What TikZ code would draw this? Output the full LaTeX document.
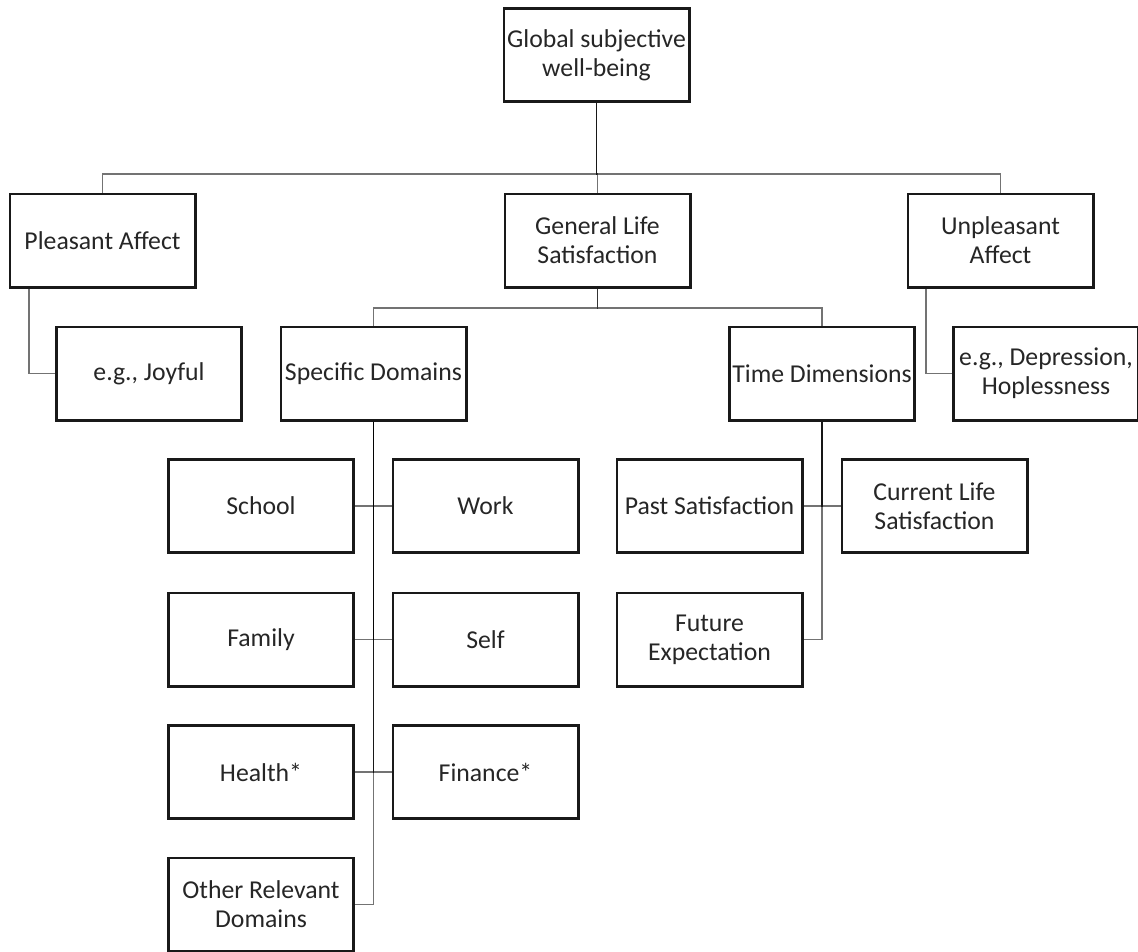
\documentclass[tikz,border=0pt]{standalone}
\usepackage{fontspec}
\setmainfont{Carlito}
\begin{document}
\begin{tikzpicture}[x=0.75pt,y=-0.75pt,
  box/.style={draw=black!90, line width=2pt, fill=white,
    minimum width=139pt, minimum height=70pt, inner sep=0pt,
    align=center, font=\fontsize{19.3pt}{21.75pt}\selectfont, text=black!85},
  conn/.style={draw=black, line width=0.9pt, opacity=0.55}]
\useasboundingbox (0,0) rectangle (1138,951);
% bus / elbow coordinates
\coordinate (bus1) at (0,174);
\coordinate (bus2) at (0,308);
\coordinate (pj) at (29,0);
\coordinate (ud) at (926,0);
% level 1
\node[box] (g) at (596.5,55) {Global subjective\\well-being};
% level 2
\node[box] (pa) at (102.5,240.5) {Pleasant Affect};
\node[box] (gl) at (597.5,240.5) {General Life\\Satisfaction};
\node[box] (ua) at (1000.5,240.5) {Unpleasant\\Affect};
% level 3
\node[box] (joy) at (149,373.5) {e.g., Joyful};
\node[box] (sd) at (373.5,373.5) {Specific Domains};
\node[box] (td) at (822,373.5) {Time Dimensions};
\node[box] (dep) at (1046,373.5) {e.g., Depression,\\Hoplessness};
% level 4
\node[box] (school) at (261,506) {School};
\node[box] (work) at (485.5,506) {Work};
\node[box] (past) at (709.5,506) {Past Satisfaction};
\node[box] (cur) at (934.5,506) {Current Life\\Satisfaction};
\node[box] (fam) at (261,639.5) {Family};
\node[box] (self) at (485.5,639.5) {Self};
\node[box] (fut) at (709.5,639.5) {Future\\Expectation};
\node[box] (health) at (261,772) {Health*};
\node[box] (fin) at (485.5,772) {Finance*};
\node[box] (other) at (261,904.5) {Other Relevant\\Domains};
% connectors
\draw[conn] (g.south) -- (g.south |- bus1) -| (pa.north);
\draw[conn] (g.south) -- (g.south |- bus1) -| (gl.north);
\draw[conn] (g.south) -- (g.south |- bus1) -| (ua.north);
\draw[conn] (gl.south) -- (gl.south |- bus2) -| (sd.north);
\draw[conn] (gl.south) -- (gl.south |- bus2) -| (td.north);
\draw[conn] (pa.south -| pj) |- (joy.west);
\draw[conn] (ua.south -| ud) |- (dep.west);
\draw[conn] (sd.south) |- (school.east);
\draw[conn] (sd.south) |- (work.west);
\draw[conn] (sd.south) |- (fam.east);
\draw[conn] (sd.south) |- (self.west);
\draw[conn] (sd.south) |- (health.east);
\draw[conn] (sd.south) |- (fin.west);
\draw[conn] (sd.south) |- (other.east);
\draw[conn] (td.south) |- (past.east);
\draw[conn] (td.south) |- (cur.west);
\draw[conn] (td.south) |- (fut.east);
\end{tikzpicture}
\end{document}
